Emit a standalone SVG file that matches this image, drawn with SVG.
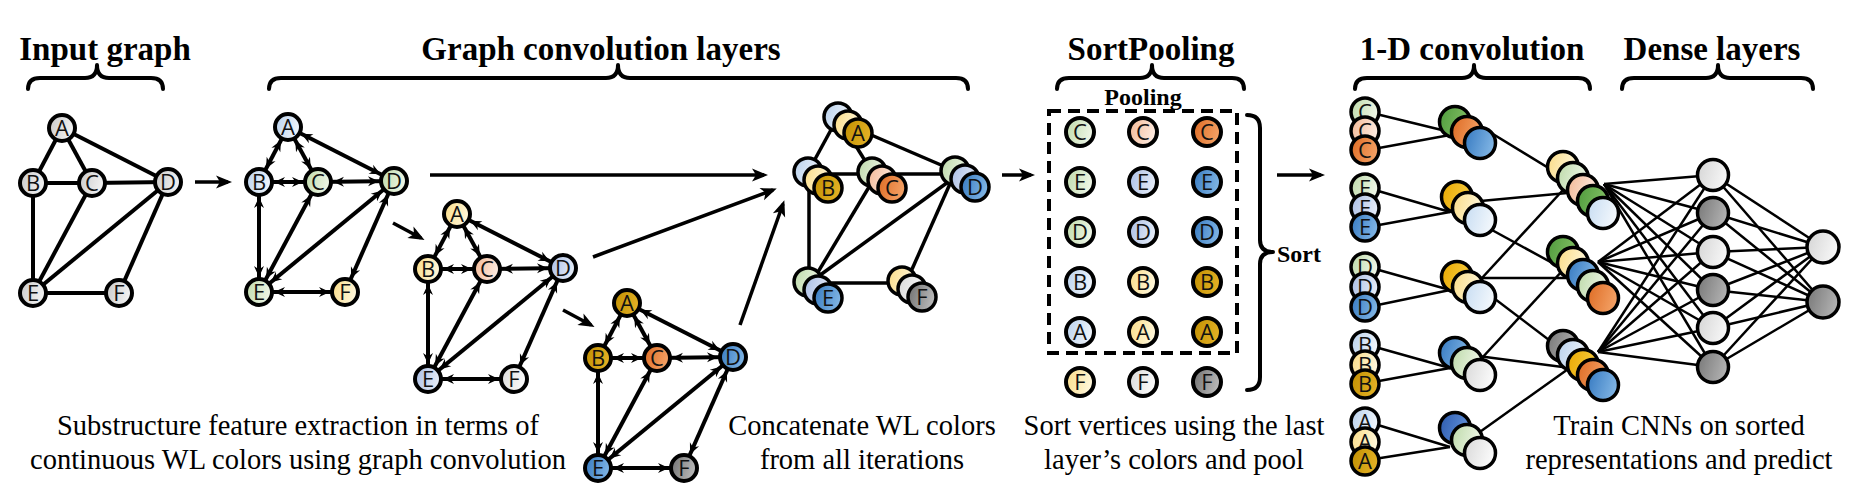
<svg xmlns="http://www.w3.org/2000/svg" width="1850" height="491" viewBox="0 0 1850 491">
<defs>
<style>
text.l{font-family:"Open Sans","DejaVu Sans",sans-serif;font-size:22px;text-anchor:middle;fill:#111}
.ttl{font-family:"Liberation Serif",serif;font-weight:bold;font-size:33px;text-anchor:middle}
.sub{font-family:"Liberation Serif",serif;font-weight:bold;font-size:24px;text-anchor:middle}
.cap{font-family:"Liberation Serif",serif;font-size:28.5px;text-anchor:middle}
.nd{stroke:#000;stroke-width:4}
.ns{stroke:#000;stroke-width:3.5}
.e{stroke:#000;stroke-width:4;fill:none}
.ea{marker-start:url(#ah);marker-end:url(#ah)}
.ce{stroke:#000;stroke-width:3.5}
.ar{stroke:#000;stroke-width:3.5;marker-end:url(#big)}
.thin{stroke:#000;stroke-width:2.5}
.br{fill:none;stroke:#000;stroke-width:4;stroke-linecap:round;stroke-linejoin:round}
</style>
<marker id="ah" markerUnits="userSpaceOnUse" markerWidth="20" markerHeight="20" refX="15" refY="0" orient="auto-start-reverse" style="overflow:visible"><path d="M0,0 L-11,-5 L-7.5,0 L-11,5 Z" fill="#000"/></marker>
<marker id="big" markerUnits="userSpaceOnUse" markerWidth="30" markerHeight="30" refX="0" refY="0" orient="auto" style="overflow:visible"><path d="M4,0 L-12,-6.5 L-8,0 L-12,6.5 Z" fill="#000"/></marker>
<linearGradient id="lb" x1="0" y1="0" x2="1" y2="0.3"><stop offset="0" stop-color="#B8D0EC"/><stop offset="1" stop-color="#EEF4FB"/></linearGradient>
<linearGradient id="lg" x1="0" y1="0" x2="1" y2="0.3"><stop offset="0" stop-color="#BCD9A8"/><stop offset="1" stop-color="#EEF6E6"/></linearGradient>
<linearGradient id="ly" x1="0" y1="0" x2="1" y2="0.3"><stop offset="0" stop-color="#FADB84"/><stop offset="1" stop-color="#FFF7DA"/></linearGradient>
<linearGradient id="sa" x1="0" y1="0" x2="1" y2="0.3"><stop offset="0" stop-color="#F2B794"/><stop offset="1" stop-color="#FDEADF"/></linearGradient>
<linearGradient id="pe" x1="0" y1="0" x2="1" y2="0.3"><stop offset="0" stop-color="#A8BCE4"/><stop offset="1" stop-color="#E4EBF7"/></linearGradient>
<linearGradient id="wh" x1="0" y1="0" x2="1" y2="0.3"><stop offset="0" stop-color="#D8D8D8"/><stop offset="1" stop-color="#FAFAFA"/></linearGradient>
<linearGradient id="go" x1="0" y1="0" x2="1" y2="0.3"><stop offset="0" stop-color="#C08E00"/><stop offset="1" stop-color="#E2B024"/></linearGradient>
<linearGradient id="or" x1="0" y1="0" x2="1" y2="0.3"><stop offset="0" stop-color="#DD6A22"/><stop offset="1" stop-color="#F3A064"/></linearGradient>
<linearGradient id="bl" x1="0" y1="0" x2="1" y2="0.3"><stop offset="0" stop-color="#3478C0"/><stop offset="1" stop-color="#7EB3E3"/></linearGradient>
<linearGradient id="gr" x1="0" y1="0" x2="1" y2="0.3"><stop offset="0" stop-color="#6E6E6E"/><stop offset="1" stop-color="#B8B8B8"/></linearGradient>
<linearGradient id="in" x1="0" y1="0" x2="1" y2="0.3"><stop offset="0" stop-color="#C8C8C8"/><stop offset="1" stop-color="#F2F2F2"/></linearGradient>
<linearGradient id="gn" x1="0" y1="0" x2="1" y2="0.3"><stop offset="0" stop-color="#4E9A3C"/><stop offset="1" stop-color="#82BF64"/></linearGradient>
<linearGradient id="yg" x1="0" y1="0" x2="1" y2="0.3"><stop offset="0" stop-color="#E8A800"/><stop offset="1" stop-color="#F8CC40"/></linearGradient>
<linearGradient id="vb" x1="0" y1="0" x2="1" y2="0.3"><stop offset="0" stop-color="#C6DCF2"/><stop offset="1" stop-color="#F2F7FC"/></linearGradient>
<linearGradient id="db" x1="0" y1="0" x2="1" y2="0.3"><stop offset="0" stop-color="#2C5AAE"/><stop offset="1" stop-color="#6090D8"/></linearGradient>
<linearGradient id="dg" x1="0" y1="0" x2="1" y2="0.3"><stop offset="0" stop-color="#767676"/><stop offset="1" stop-color="#B0B0B0"/></linearGradient>
<linearGradient id="lt" x1="0" y1="0" x2="1" y2="0.3"><stop offset="0" stop-color="#D4D4D4"/><stop offset="1" stop-color="#F6F6F6"/></linearGradient>
</defs>
<rect width="1850" height="491" fill="#fff"/>

<g id="titles">
<text class="ttl" x="105" y="60">Input graph</text>
<text class="ttl" x="601" y="60">Graph convolution layers</text>
<text class="ttl" x="1151" y="60">SortPooling</text>
<text class="ttl" x="1472" y="60">1-D convolution</text>
<text class="ttl" x="1712" y="60">Dense layers</text>
<text class="sub" x="1143" y="105">Pooling</text>
<text class="sub" x="1277" y="262" style="text-anchor:start">Sort</text>
</g>

<g id="braces">
<path class="br" d="M28,89 Q28,78 40,78 L85,78 Q97,78 97,65 Q97,78 109,78 L151,78 Q163,78 163,89"/>
<path class="br" d="M269,89 Q269,78 281,78 L606,78 Q618,78 618,65 Q618,78 630,78 L956,78 Q968,78 968,89"/>
<path class="br" d="M1057,89 Q1057,78 1069,78 L1140,78 Q1152,78 1152,65 Q1152,78 1164,78 L1232,78 Q1244,78 1244,89"/>
<path class="br" d="M1355,89 Q1355,78 1367,78 L1462,78 Q1474,78 1474,65 Q1474,78 1486,78 L1578,78 Q1590,78 1590,89"/>
<path class="br" d="M1622,89 Q1622,78 1634,78 L1706,78 Q1718,78 1718,65 Q1718,78 1730,78 L1801,78 Q1813,78 1813,89"/>
<path class="br" d="M1247,115 Q1260,115 1260,128 L1260,240 Q1260,252 1273,252 Q1260,252 1260,264 L1260,377 Q1260,390 1247,390"/>
<rect x="1049" y="111" width="188" height="242" fill="none" stroke="#000" stroke-width="4" stroke-dasharray="12,7"/>
</g>

<g id="connectors">
<g class="e">
<line x1="62" y1="128" x2="33" y2="183"/><line x1="62" y1="128" x2="92" y2="183"/><line x1="62" y1="128" x2="168" y2="182"/>
<line x1="33" y1="183" x2="92" y2="183"/><line x1="92" y1="183" x2="168" y2="182"/><line x1="33" y1="183" x2="33" y2="293"/>
<line x1="92" y1="183" x2="33" y2="293"/><line x1="168" y1="182" x2="33" y2="293"/><line x1="168" y1="182" x2="119" y2="293"/>
<line x1="33" y1="293" x2="119" y2="293"/>
</g>
<g class="e ea">
<line x1="288" y1="127" x2="259" y2="182"/><line x1="288" y1="127" x2="318" y2="182"/><line x1="288" y1="127" x2="394" y2="181"/>
<line x1="259" y1="182" x2="318" y2="182"/><line x1="318" y1="182" x2="394" y2="181"/><line x1="259" y1="182" x2="259" y2="292"/>
<line x1="318" y1="182" x2="259" y2="292"/><line x1="394" y1="181" x2="259" y2="292"/><line x1="394" y1="181" x2="345" y2="292"/>
<line x1="259" y1="292" x2="345" y2="292"/>
<line x1="457" y1="214" x2="428" y2="269"/><line x1="457" y1="214" x2="487" y2="269"/><line x1="457" y1="214" x2="563" y2="268"/>
<line x1="428" y1="269" x2="487" y2="269"/><line x1="487" y1="269" x2="563" y2="268"/><line x1="428" y1="269" x2="428" y2="379"/>
<line x1="487" y1="269" x2="428" y2="379"/><line x1="563" y1="268" x2="428" y2="379"/><line x1="563" y1="268" x2="514" y2="379"/>
<line x1="428" y1="379" x2="514" y2="379"/>
<line x1="627" y1="303" x2="598" y2="358"/><line x1="627" y1="303" x2="657" y2="358"/><line x1="627" y1="303" x2="733" y2="357"/>
<line x1="598" y1="358" x2="657" y2="358"/><line x1="657" y1="358" x2="733" y2="357"/><line x1="598" y1="358" x2="598" y2="468"/>
<line x1="657" y1="358" x2="598" y2="468"/><line x1="733" y1="357" x2="598" y2="468"/><line x1="733" y1="357" x2="684" y2="468"/>
<line x1="598" y1="468" x2="684" y2="468"/>
</g>
<g class="ce">
<line x1="838" y1="117" x2="808" y2="172"/><line x1="838" y1="117" x2="872" y2="172"/><line x1="848" y1="125" x2="955" y2="171"/>
<line x1="808" y1="174" x2="960" y2="174"/><line x1="809" y1="172" x2="809" y2="282"/><line x1="878" y1="172" x2="812" y2="282"/>
<line x1="955" y1="177" x2="812" y2="281"/><line x1="957" y1="168" x2="905" y2="285"/><line x1="808" y1="283" x2="902" y2="283"/>
</g>
<g class="ar">
<line x1="195" y1="182" x2="228" y2="182"/>
<line x1="393" y1="223" x2="421" y2="238"/>
<line x1="563" y1="310" x2="591" y2="325"/>
<line x1="430" y1="175" x2="764" y2="175"/>
<line x1="593" y1="257" x2="773" y2="190"/>
<line x1="740" y1="325" x2="783" y2="204"/>
<line x1="1002" y1="175" x2="1031" y2="175"/>
<line x1="1277" y1="175" x2="1321" y2="175"/>
</g>
<g class="thin">
<line x1="1368" y1="112" x2="1450" y2="132"/><line x1="1368" y1="150" x2="1450" y2="135"/>
<line x1="1368" y1="188" x2="1450" y2="212"/><line x1="1368" y1="227" x2="1450" y2="212"/>
<line x1="1368" y1="267" x2="1450" y2="290"/><line x1="1368" y1="307" x2="1450" y2="290"/>
<line x1="1368" y1="345" x2="1450" y2="368"/><line x1="1368" y1="383" x2="1450" y2="368"/>
<line x1="1368" y1="422" x2="1450" y2="447"/><line x1="1368" y1="460" x2="1450" y2="447"/>
<line x1="1470" y1="120" x2="1578" y2="186"/>
<line x1="1470" y1="202" x2="1578" y2="192"/>
<line x1="1470" y1="218" x2="1578" y2="277"/>
<line x1="1470" y1="291" x2="1575" y2="177"/>
<line x1="1470" y1="278" x2="1578" y2="278"/>
<line x1="1470" y1="280" x2="1578" y2="362"/>
<line x1="1470" y1="371" x2="1575" y2="257"/>
<line x1="1470" y1="355" x2="1578" y2="369"/>
<line x1="1470" y1="439" x2="1578" y2="362"/>
<line x1="1604" y1="184" x2="1713" y2="175"/><line x1="1604" y1="184" x2="1713" y2="213"/><line x1="1604" y1="184" x2="1713" y2="252"/>
<line x1="1604" y1="184" x2="1713" y2="290"/><line x1="1604" y1="184" x2="1713" y2="328"/><line x1="1604" y1="184" x2="1713" y2="367"/>
<line x1="1598" y1="262" x2="1713" y2="175"/><line x1="1598" y1="262" x2="1713" y2="213"/><line x1="1598" y1="262" x2="1713" y2="252"/>
<line x1="1598" y1="262" x2="1713" y2="290"/><line x1="1598" y1="262" x2="1713" y2="328"/><line x1="1598" y1="262" x2="1713" y2="367"/>
<line x1="1598" y1="352" x2="1713" y2="175"/><line x1="1598" y1="352" x2="1713" y2="213"/><line x1="1598" y1="352" x2="1713" y2="252"/>
<line x1="1598" y1="352" x2="1713" y2="290"/><line x1="1598" y1="352" x2="1713" y2="328"/><line x1="1598" y1="352" x2="1713" y2="367"/>
<line x1="1713" y1="175" x2="1823" y2="247"/><line x1="1713" y1="213" x2="1823" y2="247"/><line x1="1713" y1="252" x2="1823" y2="247"/>
<line x1="1713" y1="290" x2="1823" y2="247"/><line x1="1713" y1="328" x2="1823" y2="247"/><line x1="1713" y1="367" x2="1823" y2="247"/>
<line x1="1713" y1="175" x2="1823" y2="302"/><line x1="1713" y1="213" x2="1823" y2="302"/><line x1="1713" y1="252" x2="1823" y2="302"/>
<line x1="1713" y1="290" x2="1823" y2="302"/><line x1="1713" y1="328" x2="1823" y2="302"/><line x1="1713" y1="367" x2="1823" y2="302"/>
</g>
</g>

<g id="input-graph">
<g id="in-A"><circle class="nd" cx="62" cy="128" r="13" fill="url(#in)"/><text class="l" x="62" y="136">A</text></g>
<g id="in-B"><circle class="nd" cx="33" cy="183" r="13" fill="url(#in)"/><text class="l" x="33" y="191">B</text></g>
<g id="in-C"><circle class="nd" cx="92" cy="183" r="13" fill="url(#in)"/><text class="l" x="92" y="191">C</text></g>
<g id="in-D"><circle class="nd" cx="168" cy="182" r="13" fill="url(#in)"/><text class="l" x="168" y="190">D</text></g>
<g id="in-E"><circle class="nd" cx="33" cy="293" r="13" fill="url(#in)"/><text class="l" x="33" y="301">E</text></g>
<g id="in-F"><circle class="nd" cx="119" cy="293" r="13" fill="url(#in)"/><text class="l" x="119" y="301">F</text></g>
</g>

<g id="gc1">
<g id="g1-A"><circle class="nd" cx="288" cy="127" r="13" fill="url(#lb)"/><text class="l" x="288" y="135">A</text></g>
<g id="g1-B"><circle class="nd" cx="259" cy="182" r="13" fill="url(#lb)"/><text class="l" x="259" y="190">B</text></g>
<g id="g1-C"><circle class="nd" cx="318" cy="182" r="13" fill="url(#lg)"/><text class="l" x="318" y="190">C</text></g>
<g id="g1-D"><circle class="nd" cx="394" cy="181" r="13" fill="url(#lg)"/><text class="l" x="394" y="189">D</text></g>
<g id="g1-E"><circle class="nd" cx="259" cy="292" r="13" fill="url(#lg)"/><text class="l" x="259" y="300">E</text></g>
<g id="g1-F"><circle class="nd" cx="345" cy="292" r="13" fill="url(#ly)"/><text class="l" x="345" y="300">F</text></g>
</g>

<g id="gc2">
<g id="g2-A"><circle class="nd" cx="457" cy="214" r="13" fill="url(#ly)"/><text class="l" x="457" y="222">A</text></g>
<g id="g2-B"><circle class="nd" cx="428" cy="269" r="13" fill="url(#ly)"/><text class="l" x="428" y="277">B</text></g>
<g id="g2-C"><circle class="nd" cx="487" cy="269" r="13" fill="url(#sa)"/><text class="l" x="487" y="277">C</text></g>
<g id="g2-D"><circle class="nd" cx="563" cy="268" r="13" fill="url(#pe)"/><text class="l" x="563" y="276">D</text></g>
<g id="g2-E"><circle class="nd" cx="428" cy="379" r="13" fill="url(#pe)"/><text class="l" x="428" y="387">E</text></g>
<g id="g2-F"><circle class="nd" cx="514" cy="379" r="13" fill="url(#wh)"/><text class="l" x="514" y="387">F</text></g>
</g>

<g id="gc3">
<g id="g3-A"><circle class="nd" cx="627" cy="303" r="13" fill="url(#go)"/><text class="l" x="627" y="311">A</text></g>
<g id="g3-B"><circle class="nd" cx="598" cy="358" r="13" fill="url(#go)"/><text class="l" x="598" y="366">B</text></g>
<g id="g3-C"><circle class="nd" cx="657" cy="358" r="13" fill="url(#or)"/><text class="l" x="657" y="366">C</text></g>
<g id="g3-D"><circle class="nd" cx="733" cy="357" r="13" fill="url(#bl)"/><text class="l" x="733" y="365">D</text></g>
<g id="g3-E"><circle class="nd" cx="598" cy="468" r="13" fill="url(#bl)"/><text class="l" x="598" y="476">E</text></g>
<g id="g3-F"><circle class="nd" cx="684" cy="468" r="13" fill="url(#gr)"/><text class="l" x="684" y="476">F</text></g>
</g>

<g id="concat">
<g id="cc-A"><circle class="ns" cx="838" cy="117" r="14" fill="url(#lb)"/><circle class="ns" cx="848" cy="125" r="14" fill="url(#ly)"/><circle class="ns" cx="858" cy="133" r="14" fill="url(#go)"/><text class="l" x="858" y="141">A</text></g>
<g id="cc-B"><circle class="ns" cx="808" cy="172" r="14" fill="url(#lb)"/><circle class="ns" cx="818" cy="180" r="14" fill="url(#ly)"/><circle class="ns" cx="828" cy="188" r="14" fill="url(#go)"/><text class="l" x="828" y="196">B</text></g>
<g id="cc-C"><circle class="ns" cx="872" cy="172" r="14" fill="url(#lg)"/><circle class="ns" cx="882" cy="180" r="14" fill="url(#sa)"/><circle class="ns" cx="892" cy="188" r="14" fill="url(#or)"/><text class="l" x="892" y="196">C</text></g>
<g id="cc-D"><circle class="ns" cx="955" cy="171" r="14" fill="url(#lg)"/><circle class="ns" cx="965" cy="179" r="14" fill="url(#pe)"/><circle class="ns" cx="975" cy="187" r="14" fill="url(#bl)"/><text class="l" x="975" y="195">D</text></g>
<g id="cc-E"><circle class="ns" cx="808" cy="282" r="14" fill="url(#lg)"/><circle class="ns" cx="818" cy="290" r="14" fill="url(#pe)"/><circle class="ns" cx="828" cy="298" r="14" fill="url(#bl)"/><text class="l" x="828" y="306">E</text></g>
<g id="cc-F"><circle class="ns" cx="902" cy="281" r="14" fill="url(#ly)"/><circle class="ns" cx="912" cy="289" r="14" fill="url(#wh)"/><circle class="ns" cx="922" cy="297" r="14" fill="url(#gr)"/><text class="l" x="922" y="305">F</text></g>
</g>

<g id="sortpool">
<g id="sp-C"><circle class="nd" cx="1080" cy="132" r="14" fill="url(#lg)"/><text class="l" x="1080" y="140">C</text><circle class="nd" cx="1143" cy="132" r="14" fill="url(#sa)"/><text class="l" x="1143" y="140">C</text><circle class="nd" cx="1207" cy="132" r="14" fill="url(#or)"/><text class="l" x="1207" y="140">C</text></g>
<g id="sp-E"><circle class="nd" cx="1080" cy="182" r="14" fill="url(#lg)"/><text class="l" x="1080" y="190">E</text><circle class="nd" cx="1143" cy="182" r="14" fill="url(#pe)"/><text class="l" x="1143" y="190">E</text><circle class="nd" cx="1207" cy="182" r="14" fill="url(#bl)"/><text class="l" x="1207" y="190">E</text></g>
<g id="sp-D"><circle class="nd" cx="1080" cy="232" r="14" fill="url(#lg)"/><text class="l" x="1080" y="240">D</text><circle class="nd" cx="1143" cy="232" r="14" fill="url(#pe)"/><text class="l" x="1143" y="240">D</text><circle class="nd" cx="1207" cy="232" r="14" fill="url(#bl)"/><text class="l" x="1207" y="240">D</text></g>
<g id="sp-B"><circle class="nd" cx="1080" cy="282" r="14" fill="url(#lb)"/><text class="l" x="1080" y="290">B</text><circle class="nd" cx="1143" cy="282" r="14" fill="url(#ly)"/><text class="l" x="1143" y="290">B</text><circle class="nd" cx="1207" cy="282" r="14" fill="url(#go)"/><text class="l" x="1207" y="290">B</text></g>
<g id="sp-A"><circle class="nd" cx="1080" cy="332" r="14" fill="url(#lb)"/><text class="l" x="1080" y="340">A</text><circle class="nd" cx="1143" cy="332" r="14" fill="url(#ly)"/><text class="l" x="1143" y="340">A</text><circle class="nd" cx="1207" cy="332" r="14" fill="url(#go)"/><text class="l" x="1207" y="340">A</text></g>
<g id="sp-F"><circle class="nd" cx="1080" cy="382" r="14" fill="url(#ly)"/><text class="l" x="1080" y="390">F</text><circle class="nd" cx="1143" cy="382" r="14" fill="url(#wh)"/><text class="l" x="1143" y="390">F</text><circle class="nd" cx="1207" cy="382" r="14" fill="url(#gr)"/><text class="l" x="1207" y="390">F</text></g>
</g>

<g id="conv-input">
<g id="ci-C"><circle class="ns" cx="1365" cy="112" r="14" fill="url(#lg)"/><text class="l" x="1365" y="120">C</text><circle class="ns" cx="1365" cy="131" r="14" fill="url(#sa)"/><text class="l" x="1365" y="139">C</text><circle class="ns" cx="1365" cy="150" r="14" fill="url(#or)"/><text class="l" x="1365" y="158">C</text></g>
<g id="ci-E"><circle class="ns" cx="1365" cy="188" r="14" fill="url(#lg)"/><text class="l" x="1365" y="196">E</text><circle class="ns" cx="1365" cy="208" r="14" fill="url(#pe)"/><text class="l" x="1365" y="216">E</text><circle class="ns" cx="1365" cy="227" r="14" fill="url(#bl)"/><text class="l" x="1365" y="235">E</text></g>
<g id="ci-D"><circle class="ns" cx="1365" cy="267" r="14" fill="url(#lg)"/><text class="l" x="1365" y="275">D</text><circle class="ns" cx="1365" cy="287" r="14" fill="url(#pe)"/><text class="l" x="1365" y="295">D</text><circle class="ns" cx="1365" cy="307" r="14" fill="url(#bl)"/><text class="l" x="1365" y="315">D</text></g>
<g id="ci-B"><circle class="ns" cx="1365" cy="345" r="14" fill="url(#lb)"/><text class="l" x="1365" y="353">B</text><circle class="ns" cx="1365" cy="365" r="14" fill="url(#ly)"/><text class="l" x="1365" y="373">B</text><circle class="ns" cx="1365" cy="384" r="14" fill="url(#go)"/><text class="l" x="1365" y="392">B</text></g>
<g id="ci-A"><circle class="ns" cx="1365" cy="422" r="14" fill="url(#lb)"/><text class="l" x="1365" y="430">A</text><circle class="ns" cx="1365" cy="442" r="14" fill="url(#ly)"/><text class="l" x="1365" y="450">A</text><circle class="ns" cx="1365" cy="461" r="14" fill="url(#go)"/><text class="l" x="1365" y="469">A</text></g>
</g>

<g id="conv-filters">
<g id="cf-1"><circle class="ns" cx="1455" cy="122" r="15.5" fill="url(#gn)"/><circle class="ns" cx="1467" cy="132" r="15.5" fill="url(#or)"/><circle class="ns" cx="1480" cy="143" r="15.5" fill="url(#bl)"/></g>
<g id="cf-2"><circle class="ns" cx="1457" cy="197" r="15.5" fill="url(#yg)"/><circle class="ns" cx="1468" cy="208" r="15.5" fill="url(#ly)"/><circle class="ns" cx="1480" cy="220" r="15.5" fill="url(#vb)"/></g>
<g id="cf-3"><circle class="ns" cx="1457" cy="277" r="15.5" fill="url(#yg)"/><circle class="ns" cx="1468" cy="287" r="15.5" fill="url(#ly)"/><circle class="ns" cx="1480" cy="297" r="15.5" fill="url(#vb)"/></g>
<g id="cf-4"><circle class="ns" cx="1455" cy="353" r="15.5" fill="url(#bl)"/><circle class="ns" cx="1467" cy="363" r="15.5" fill="url(#lg)"/><circle class="ns" cx="1480" cy="375" r="15.5" fill="url(#wh)"/></g>
<g id="cf-5"><circle class="ns" cx="1455" cy="428" r="15.5" fill="url(#db)"/><circle class="ns" cx="1467" cy="440" r="15.5" fill="url(#lg)"/><circle class="ns" cx="1480" cy="453" r="15.5" fill="url(#wh)"/></g>
</g>

<g id="conv-out">
<g id="co-1"><circle class="ns" cx="1563" cy="167" r="15.5" fill="url(#ly)"/><circle class="ns" cx="1573" cy="178" r="15.5" fill="url(#lg)"/><circle class="ns" cx="1583" cy="190" r="15.5" fill="url(#sa)"/><circle class="ns" cx="1593" cy="201" r="15.5" fill="url(#gn)"/><circle class="ns" cx="1603" cy="213" r="15.5" fill="url(#vb)"/></g>
<g id="co-2"><circle class="ns" cx="1563" cy="252" r="15.5" fill="url(#gn)"/><circle class="ns" cx="1573" cy="263" r="15.5" fill="url(#ly)"/><circle class="ns" cx="1583" cy="275" r="15.5" fill="url(#bl)"/><circle class="ns" cx="1593" cy="286" r="15.5" fill="url(#lg)"/><circle class="ns" cx="1603" cy="298" r="15.5" fill="url(#or)"/></g>
<g id="co-3"><circle class="ns" cx="1563" cy="346" r="15.5" fill="url(#dg)"/><circle class="ns" cx="1573" cy="355" r="15.5" fill="url(#lb)"/><circle class="ns" cx="1583" cy="365" r="15.5" fill="url(#yg)"/><circle class="ns" cx="1593" cy="375" r="15.5" fill="url(#or)"/><circle class="ns" cx="1603" cy="385" r="15.5" fill="url(#bl)"/></g>
</g>

<g id="dense">
<g id="h1"><circle class="ns" cx="1713" cy="175" r="15.5" fill="url(#lt)"/></g>
<g id="h2"><circle class="ns" cx="1713" cy="213" r="15.5" fill="url(#dg)"/></g>
<g id="h3"><circle class="ns" cx="1713" cy="252" r="15.5" fill="url(#lt)"/></g>
<g id="h4"><circle class="ns" cx="1713" cy="290" r="15.5" fill="url(#dg)"/></g>
<g id="h5"><circle class="ns" cx="1713" cy="328" r="15.5" fill="url(#lt)"/></g>
<g id="h6"><circle class="ns" cx="1713" cy="367" r="15.5" fill="url(#dg)"/></g>
<g id="o1"><circle class="ns" cx="1823" cy="247" r="16" fill="url(#lt)"/></g>
<g id="o2"><circle class="ns" cx="1823" cy="302" r="16" fill="url(#dg)"/></g>
</g>

<g id="captions">
<text class="cap" x="298" y="435">Substructure feature extraction in terms of</text>
<text class="cap" x="298" y="469">continuous WL colors using graph convolution</text>
<text class="cap" x="862" y="435">Concatenate WL colors</text>
<text class="cap" x="862" y="469">from all iterations</text>
<text class="cap" x="1174" y="435">Sort vertices using the last</text>
<text class="cap" x="1174" y="469">layer’s colors and pool</text>
<text class="cap" x="1679" y="435">Train CNNs on sorted</text>
<text class="cap" x="1679" y="469">representations and predict</text>
</g>
</svg>
